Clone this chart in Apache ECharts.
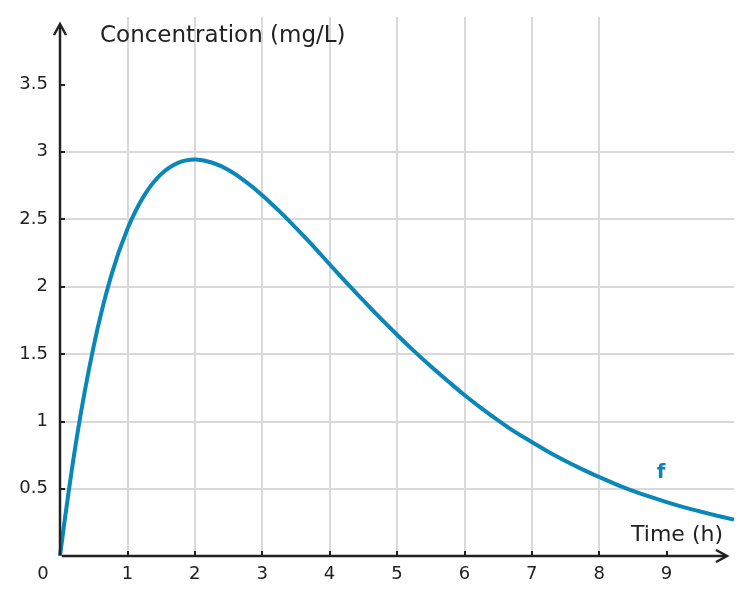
<!DOCTYPE html>
<html>
<head>
<meta charset="utf-8">
<script src="https://cdn.jsdelivr.net/npm/echarts@6/dist/echarts.min.js"></script>
<style>html,body{margin:0;padding:0;background:#fff;}#c{width:751px;height:604px;}</style>
</head>
<body>
<div id="c"></div>
<script>
// Data
const timeH = [0, 0.25, 0.5, 0.75, 1, 1.25, 1.5, 1.75, 2, 2.25, 2.5, 2.75, 3, 3.25, 3.5, 3.75, 4, 4.25, 4.5, 4.75, 5, 5.25, 5.5, 5.75, 6, 6.25, 6.5, 6.75, 7, 7.25, 7.5, 7.75, 8, 8.25, 8.5, 8.75, 9, 9.25, 9.5, 9.75, 10];
const concentration = [0, 0.882, 1.558, 2.064, 2.426, 2.676, 2.834, 2.918, 2.943, 2.920, 2.865, 2.780, 2.678, 2.561, 2.435, 2.303, 2.165, 2.028, 1.897, 1.767, 1.642, 1.522, 1.408, 1.300, 1.195, 1.098, 1.007, 0.921, 0.846, 0.772, 0.705, 0.643, 0.586, 0.532, 0.484, 0.440, 0.400, 0.363, 0.330, 0.299, 0.270];
const xTickValues = [1, 2, 3, 4, 5, 6, 7, 8, 9];
const yTickValues = [0.5, 1, 1.5, 2, 2.5, 3, 3.5];
const seriesName = 'f';
const seriesLabelAt = [8.92, 0.62];
const xAxisName = 'Time (h)';
const yAxisName = 'Concentration (mg/L)';

const FONT = 'DejaVu Sans';
const INK = '#222222';
const BLUE = '#0b86b9';

const chart = echarts.init(document.getElementById('c'), null, {renderer: 'canvas'});
const option = {
  animation: false,
  grid: {left: 60, right: 17, top: 17, bottom: 48, containLabel: false},
  xAxis: {
    type: 'value', min: 0, max: 10, interval: 1,
    axisLine: {show: false},
    axisTick: {show: true, inside: true, length: 5, customValues: xTickValues, lineStyle: {color: INK, width: 2}},
    axisLabel: {show: true, customValues: xTickValues, margin: 9, color: INK, fontFamily: FONT, fontSize: 18},
    splitLine: {show: true, showMinLine: true, showMaxLine: false, lineStyle: {color: '#d9d9d9', width: 2}}
  },
  yAxis: {
    type: 'value', min: 0, max: 4, interval: 0.5,
    axisLine: {show: false},
    axisTick: {show: true, inside: true, length: 5, customValues: yTickValues, lineStyle: {color: INK, width: 2}},
    axisLabel: {show: true, customValues: yTickValues, margin: 12, color: INK, fontFamily: FONT, fontSize: 18},
    splitLine: {show: true, showMinLine: true, showMaxLine: false, lineStyle: {color: '#d9d9d9', width: 2}}
  },
  series: [{
    name: seriesName,
    type: 'line',
    data: timeH.map((t, i) => [t, concentration[i]]),
    smooth: 0.4,
    symbol: 'none',
    lineStyle: {color: BLUE, width: 4},
    markPoint: {
      symbol: 'circle', symbolSize: 0,
      data: [{coord: seriesLabelAt}],
      label: {show: true, formatter: seriesName, color: BLUE, fontFamily: FONT, fontSize: 20, fontWeight: 'bold', position: 'inside'}
    }
  }]
};
chart.setOption(option);

const p0 = chart.convertToPixel({gridIndex: 0}, [0, 0]);
const pX = chart.convertToPixel({gridIndex: 0}, [10, 0]);
const pY = chart.convertToPixel({gridIndex: 0}, [0, 4]);
const xTip = pX[0] - 7;
const yTip = pY[1] + 7;
const axisStyle = {stroke: INK, lineWidth: 2.5};
chart.setOption({
  graphic: [
    {type: 'line', z: 10, shape: {x1: p0[0] + 2, y1: p0[1], x2: xTip - 1, y2: p0[1]}, style: axisStyle},
    {type: 'polyline', z: 10, shape: {points: [[xTip - 11, p0[1] - 6], [xTip, p0[1]], [xTip - 11, p0[1] + 6]]}, style: {stroke: INK, lineWidth: 2.5, fill: null, lineJoin: 'miter'}},
    {type: 'line', z: 10, shape: {x1: p0[0], y1: p0[1] - 1, x2: p0[0], y2: yTip + 1}, style: axisStyle},
    {type: 'polyline', z: 10, shape: {points: [[p0[0] - 6, yTip + 11], [p0[0], yTip], [p0[0] + 6, yTip + 11]]}, style: {stroke: INK, lineWidth: 2.5, fill: null, lineJoin: 'miter'}},
    {type: 'text', z: 10, x: p0[0] + 40, y: pY[1] + 19, style: {text: yAxisName, fill: INK, font: '23px "' + FONT + '"', textAlign: 'left', textVerticalAlign: 'middle'}},
    {type: 'text', z: 10, x: pX[0] - 11, y: p0[1] - 21, style: {text: xAxisName, fill: INK, font: '22px "' + FONT + '"', textAlign: 'right', textVerticalAlign: 'middle'}},
    {type: 'text', z: 10, x: p0[0] - 17, y: p0[1] + 18, style: {text: '0', fill: INK, font: '18px "' + FONT + '"', textAlign: 'center', textVerticalAlign: 'middle'}}
  ]
});
</script>
</body>
</html>
